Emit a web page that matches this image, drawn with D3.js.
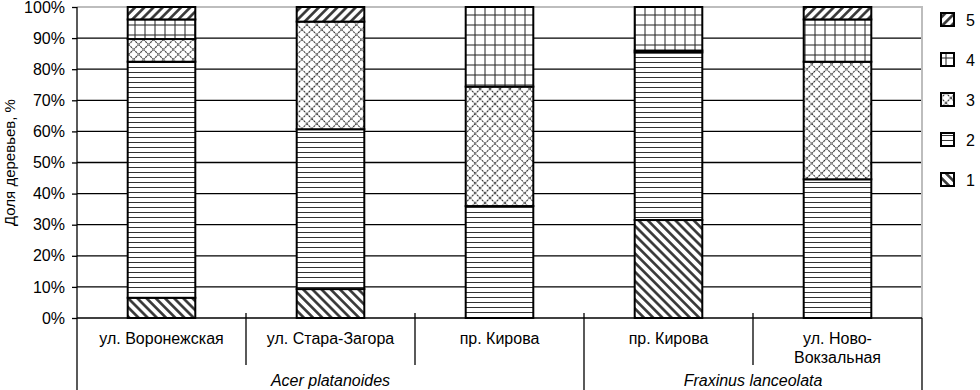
<!DOCTYPE html>
<html>
<head>
<meta charset="utf-8">
<script src="https://cdn.jsdelivr.net/npm/d3@7"></script>
<style>
  body { margin: 0; background: #fff; }
  svg { font-family: "Liberation Sans", Arial, sans-serif; }
</style>
</head>
<body>
<svg width="980" height="390"></svg>
<script>
// data
const categories = ["ул. Воронежская", "ул. Стара-Загора", "пр. Кирова", "пр. Кирова", "ул. Ново-Вокзальная"]
const catLines = [["ул. Воронежская"], ["ул. Стара-Загора"], ["пр. Кирова"], ["пр. Кирова"], ["ул. Ново-", "Вокзальная"]]
const groups = ["Acer platanoides", "Fraxinus lanceolata"]
const groupSize = [3, 2]
const seriesNames = ["1", "2", "3", "4", "5"]
const s1 = [6.5, 9.3, 0, 31.5, 0]
const s2 = [75.9, 51.4, 36, 53.9, 44.6]
const s3 = [7.3, 34.6, 38.4, 0.6, 37.8]
const s4 = [6.3, 0, 25.6, 14, 13.6]
const s5 = [4, 4.7, 0, 0, 4]
const yTicks = [0, 10, 20, 30, 40, 50, 60, 70, 80, 90, 100]

const svg = d3.select("svg")
const L = 77, R = 922, T = 7, B = 318

// patterns
const defs = svg.append("defs")
function linePattern(id, size, angle, lines, stroke, sw, dash) {
  const p = defs.append("pattern").attr("id", id)
    .attr("patternUnits", "userSpaceOnUse")
    .attr("width", size).attr("height", size)
    .attr("patternTransform", `rotate(${angle})`)
  p.append("rect").attr("width", size).attr("height", size).attr("fill", "#fff")
  lines.forEach(l => {
    p.append("line").attr("x1", l[0]).attr("y1", l[1]).attr("x2", l[2]).attr("y2", l[3])
      .attr("stroke", stroke).attr("stroke-width", sw)
      .attr("stroke-dasharray", dash || null)
  })
}
linePattern("p1", 6.5, -45, [[3.25, 0, 3.25, 6.5]], "#333", 2.6)
linePattern("p2", 5, 0, [[0, 2.5, 5, 2.5]], "#333", 1)
linePattern("p3", 7, 45, [[3.5, 0, 3.5, 7], [0, 3.5, 7, 3.5]], "#333", 1.1, "1.2,0.8")
linePattern("p4", 10, 0, [[5, 0, 5, 10], [0, 5, 10, 5]], "#222", 1)
linePattern("p5", 6.5, 45, [[3.25, 0, 3.25, 6.5]], "#333", 2.6)
const fills = ["url(#p1)", "url(#p2)", "url(#p3)", "url(#p4)", "url(#p5)"]

const x = d3.scaleBand().domain(d3.range(categories.length)).range([L, R])
  .paddingInner(0.6).paddingOuter(0.3)
const y = d3.scaleLinear().domain([0, 100]).range([B, T])

// gridlines
svg.append("g").selectAll("line").data(yTicks.filter(d => d > 0 && d < 100)).join("line")
  .attr("x1", L).attr("x2", R).attr("y1", d => y(d)).attr("y2", d => y(d))
  .attr("stroke", "#000").attr("stroke-width", 1.3)
// plot border top/right
svg.append("path").attr("d", `M${L},${y(100)}H${R}V${B}`)
  .attr("fill", "none").attr("stroke", "#bdbdbd").attr("stroke-width", 2)

// y axis
const yAxis = svg.append("g").attr("transform", `translate(${L},0)`)
  .call(d3.axisLeft(y).tickValues(yTicks).tickFormat(d => d + "%").tickSize(5).tickSizeOuter(0))
yAxis.select(".domain").remove()
yAxis.selectAll(".tick line").attr("stroke", "#000").attr("stroke-width", 1.3)
yAxis.selectAll(".tick text").attr("font-size", 16).attr("fill", "#000").attr("x", -12)
svg.append("line").attr("x1", L).attr("x2", L).attr("y1", T).attr("y2", 390)
  .attr("stroke", "#000").attr("stroke-width", 1.3)

svg.append("text").attr("transform", `translate(15,${(T + B) / 2}) rotate(-90)`)
  .attr("text-anchor", "middle").attr("font-size", 15).text("Доля деревьев, %")

// stacked bars
const table = categories.map((c, i) => ({ i, "1": s1[i], "2": s2[i], "3": s3[i], "4": s4[i], "5": s5[i] }))
const stacked = d3.stack().keys(seriesNames)(table)
stacked.forEach((layer, k) => {
  svg.append("g").selectAll("rect").data(layer.filter(d => d[1] - d[0] > 0)).join("rect")
    .attr("x", d => x(d.data.i)).attr("width", x.bandwidth())
    .attr("y", d => y(d[1])).attr("height", d => y(d[0]) - y(d[1]))
    .attr("fill", fills[k]).attr("stroke", "#000").attr("stroke-width", 2)
})

// x axis
svg.append("line").attr("x1", L).attr("x2", R).attr("y1", B).attr("y2", B)
  .attr("stroke", "#000").attr("stroke-width", 1.3)
const step = x.step()
const bounds = d3.range(categories.length + 1).map(k => L + k * step)
const groupEdges = [0]
groupSize.forEach(g => groupEdges.push(groupEdges[groupEdges.length - 1] + g))
svg.append("g").selectAll("line").data(d3.range(1, categories.length)).join("line")
  .attr("x1", k => bounds[k]).attr("x2", k => bounds[k])
  .attr("y1", 313).attr("y2", k => groupEdges.includes(k) ? 390 : 365)
  .attr("stroke", "#000").attr("stroke-width", 1.3)
svg.append("line").attr("x1", R).attr("x2", R).attr("y1", B).attr("y2", 390)
  .attr("stroke", "#000").attr("stroke-width", 1.3)

svg.append("g").selectAll("text").data(catLines).join("text")
  .attr("x", (d, i) => x(i) + x.bandwidth() / 2).attr("y", 344)
  .attr("text-anchor", "middle").attr("font-size", 16)
  .selectAll("tspan").data(d => d).join("tspan")
  .attr("x", function () { return d3.select(this.parentNode).attr("x") })
  .attr("dy", (d, j) => j === 0 ? 0 : 19).text(d => d)

svg.append("g").selectAll("text").data(groups).join("text")
  .attr("x", (d, g) => (bounds[groupEdges[g]] + bounds[groupEdges[g + 1]]) / 2)
  .attr("y", 386).attr("text-anchor", "middle").attr("font-size", 16)
  .attr("font-style", "italic").text(d => d)

// legend
const leg = svg.append("g").selectAll("g").data(seriesNames.slice().reverse()).join("g")
  .attr("transform", (d, i) => `translate(941,${13 + i * 40})`)
leg.append("rect").attr("width", 13).attr("height", 13)
  .attr("fill", d => fills[+d - 1]).attr("stroke", "#000").attr("stroke-width", 2)
leg.append("text").attr("x", 25).attr("y", 13).attr("font-size", 16).text(d => d)
</script>
</body>
</html>
